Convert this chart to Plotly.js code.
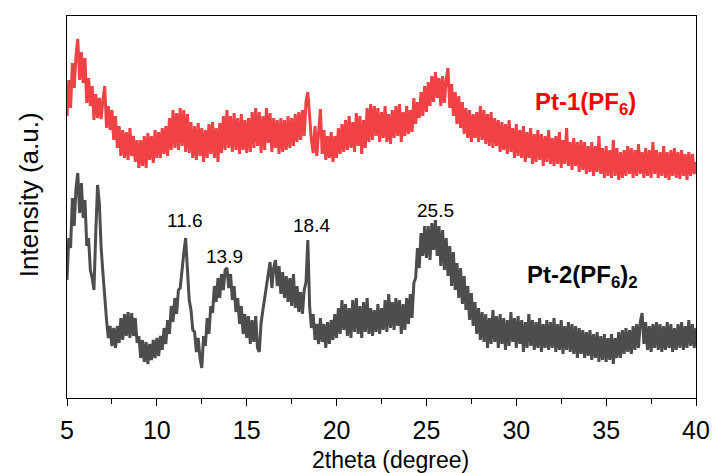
<!DOCTYPE html>
<html><head><meta charset="utf-8">
<script src="https://cdn.plot.ly/plotly-3.0.1.min.js"></script>
<style>html,body{margin:0;padding:0;background:#fff;}#chart{width:716px;height:473px;}</style>
</head><body><div id="chart"></div>
<script>
// 2theta sampling grid: 5.0 .. 40.0 degrees, step 0.1
const thetaStart = 5.0, thetaStep = 0.1, thetaCount = 351;
const twoTheta = [];
for (let i = 0; i < thetaCount; i++) twoTheta.push(+(thetaStart + i * thetaStep).toFixed(1));

// Pt-1(PF6) intensity (a.u., offset trace), one row per degree
const pt1 = [
 282,318,290,335,310,342,359,318,346,315,
 340,295,320,292,312,278,304,280,300,279,
 298,312,270,292,268,288,258,282,250,272,
 242,268,240,266,238,270,242,262,236,258,
 230,258,232,262,230,265,238,262,235,268,
 240,266,240,270,244,272,242,280,248,288,
 250,285,248,290,252,288,246,284,245,276,
 240,272,238,275,242,270,236,268,240,274,
 244,276,240,270,236,275,245,282,248,288,
 250,282,246,285,248,280,244,284,248,278,
 245,280,246,286,250,290,252,286,245,282,
 248,290,255,285,246,280,250,278,244,280,
 246,278,248,282,250,280,252,284,256,286,
 258,288,262,296,306,280,258,245,272,242,
 265,289,244,268,238,262,240,266,236,262,
 240,270,244,274,246,278,248,282,250,276,
 246,285,252,282,244,278,250,290,256,294,
 258,292,262,290,256,286,260,292,256,284,
 254,288,260,292,262,294,256,286,262,292,
 264,288,266,300,274,296,280,306,282,312,
 286,316,292,322,296,326,300,320,292,322,
 295,318,330,290,314,282,306,274,302,270,
 296,264,290,260,288,256,284,260,286,256,
 292,258,288,254,284,252,286,250,280,252,
 278,246,276,248,274,244,278,246,270,240,
 274,242,268,240,272,236,266,240,270,234,
 264,236,268,238,264,232,262,236,268,234,
 260,232,262,234,266,230,258,234,270,232,
 256,228,260,232,256,226,258,228,256,224,
 252,226,256,222,252,226,262,224,250,220,
 252,222,248,220,258,222,250,218,246,220,
 248,222,252,224,250,220,248,222,254,224,
 246,220,250,222,248,220,256,224,248,220,
 246,222,252,220,246,218,248,222,250,220,
 246,219,248,222,244,218,246,222,244,224,
 236
];

// Pt-2(PF6)2 intensity (a.u., offset trace), one row per degree
const pt2 = [
 118,160,150,200,172,210,225,185,215,180,
 198,152,160,128,120,108,165,213,195,150,
 125,98,78,60,72,52,70,50,72,55,
 80,58,84,62,86,60,85,62,80,55,
 62,40,58,36,56,34,54,38,58,40,
 60,42,62,48,70,54,78,64,92,76,
 100,84,108,110,132,145,160,122,98,88,
 68,66,46,60,40,30,62,52,80,64,
 92,85,112,96,120,100,124,108,128,130,
 110,124,98,112,86,100,74,92,64,84,
 60,82,54,78,56,82,50,46,75,88,
 100,114,124,136,110,130,138,112,132,104,
 126,100,122,96,120,92,124,90,112,86,
 106,84,108,116,158,92,70,84,58,74,
 54,80,56,74,50,76,54,78,58,84,
 60,90,64,98,68,94,62,90,60,98,
 66,100,64,92,60,96,66,100,64,90,
 62,88,66,94,64,90,68,98,66,104,
 70,96,68,100,72,98,64,94,68,100,
 74,104,80,115,120,150,130,165,142,172,
 140,172,138,175,148,178,142,172,132,168,
 128,160,122,152,112,146,108,135,100,130,
 94,122,88,112,78,105,72,96,64,90,
 58,86,56,84,50,80,54,88,56,82,
 50,84,54,80,48,78,52,86,56,80,
 50,82,54,78,46,76,50,84,52,78,
 48,76,50,80,46,74,50,78,48,76,
 50,80,46,74,48,78,44,72,48,76,
 46,74,44,72,40,70,44,68,40,66,
 42,68,38,64,40,66,36,62,38,64,
 36,60,38,64,34,60,40,66,40,68,
 44,70,46,68,44,72,48,74,50,76,
 85,54,76,48,72,46,74,50,76,48,
 74,46,72,48,76,50,74,46,70,48,
 74,50,76,48,72,50,78,52,74,50,
 70
];

const peakLabels = ['11.6', '13.9', '18.4', '25.5'];
const peakLabelX = [11.57, 13.74, 18.63, 25.53];
const peakLabelY = [178, 142, 173, 188];

const FONT = 'Liberation Sans, Arial, sans-serif';

const traces = [
  {x: twoTheta, y: pt1, type: 'scatter', mode: 'lines', name: 'Pt-1(PF6)',
   line: {color: '#F04145', width: 3}, hoverinfo: 'skip'},
  {x: twoTheta, y: pt2, type: 'scatter', mode: 'lines', name: 'Pt-2(PF6)2',
   line: {color: '#4D4D4D', width: 3}, hoverinfo: 'skip'}
];

const annotations = peakLabels.map((t, i) => ({
  x: peakLabelX[i], y: peakLabelY[i], xref: 'x', yref: 'y', text: t, showarrow: false,
  xanchor: 'center', yanchor: 'middle',
  font: {family: FONT, size: 19, color: '#000'}
}));
annotations.push({x: 33.85, y: 295, xref: 'x', yref: 'y', showarrow: false,
  xanchor: 'center', yanchor: 'middle',
  text: '<b>Pt-1(PF<sub>6</sub>)</b>',
  font: {family: FONT, size: 24, color: '#FF0000'}});
annotations.push({x: 33.7, y: 122, xref: 'x', yref: 'y', showarrow: false,
  xanchor: 'center', yanchor: 'middle',
  text: '<b>Pt-2(PF<sub>6</sub>)<sub>2</sub></b>',
  font: {family: FONT, size: 24, color: '#000'}});
// axis titles
annotations.push({x: 0.515, y: -0.163, xref: 'paper', yref: 'paper', showarrow: false,
  xanchor: 'center', yanchor: 'middle',
  text: '2theta (degree)', font: {family: FONT, size: 23, color: '#000'}});
annotations.push({x: -0.0604, y: 0.531, xref: 'paper', yref: 'paper', showarrow: false,
  xanchor: 'center', yanchor: 'middle',
  textangle: -90, text: 'Intensity (a.u.)', font: {family: FONT, size: 26, color: '#000'}});

const layout = {
  width: 716, height: 473,
  margin: {l: 67, r: 20, t: 16, b: 75},
  paper_bgcolor: '#fff', plot_bgcolor: '#fff',
  showlegend: false,
  font: {family: FONT, color: '#000'},
  xaxis: {
    range: [5, 40], tickmode: 'array', tickvals: [5,10,15,20,25,30,35,40],
    ticks: 'outside', ticklen: 7, tickwidth: 1, tickcolor: '#000',
    minor: {dtick: 2.5, ticks: 'outside', ticklen: 5, tickcolor: '#000'},
    showline: true, linecolor: '#000', linewidth: 1.2, mirror: true,
    showgrid: false, zeroline: false, ticklabelstandoff: 3,
    tickfont: {size: 25, family: FONT}
  },
  yaxis: {
    range: [0, 382], showticklabels: false, ticks: '',
    showline: true, linecolor: '#000', linewidth: 1.2, mirror: true,
    showgrid: false, zeroline: false
  },
  annotations: annotations
};

Plotly.newPlot('chart', traces, layout, {staticPlot: true, displayModeBar: false});
</script></body></html>
